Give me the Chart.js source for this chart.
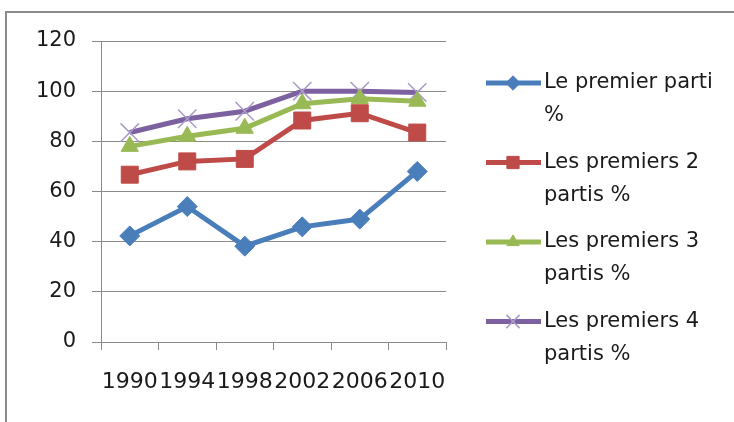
<!DOCTYPE html>
<html>
<head>
<meta charset="utf-8">
<script src="https://cdn.jsdelivr.net/npm/chart.js@4/dist/chart.umd.min.js"></script>
<style>
  html, body { margin: 0; padding: 0; background: #fff; }
  #wrap { width: 734px; height: 422px; position: relative; }
</style>
</head>
<body>
<div id="wrap"><canvas id="chart"></canvas></div>
<script>
// categories and series
const years = ['1990', '1994', '1998', '2002', '2006', '2010'];
const seriesNames = ['Le premier parti %', 'Les premiers 2 partis %', 'Les premiers 3 partis %', 'Les premiers 4 partis %'];
const premier1 = [42.3, 54, 38.2, 45.9, 49, 68];
const premiers2 = [66.7, 72, 73, 88.3, 91.2, 83.5];
const premiers3 = [78, 82, 85.2, 95, 97, 96];
const premiers4 = [83.5, 89, 92, 100, 100, 99.5];
const yTicks = [0, 20, 40, 60, 80, 100, 120];

const FONT = 'DejaVu Sans';
const gridGray = '#8a8a8a';

// frame round the whole chart
const framePlugin = {
    id: 'frame',
    beforeDraw(chart) {
        const ctx = chart.ctx;
        ctx.save();
        ctx.strokeStyle = '#8c8c8c';
        ctx.lineWidth = 2;
        ctx.beginPath();
        ctx.moveTo(6, 430);
        ctx.lineTo(6, 12);
        ctx.lineTo(740, 12);
        ctx.stroke();
        ctx.restore();
    }
};

// legend on the right with wrapped labels
const sideLegend = {
    id: 'sideLegend',
    afterDraw(chart) {
        const ctx = chart.ctx;
        ctx.save();
        ctx.font = '21px "' + FONT + '"';
        ctx.textBaseline = 'middle';
        chart.data.datasets.forEach((ds, i) => {
            const y = 83 + i * 79.5;
            ctx.strokeStyle = ds.borderColor;
            ctx.lineWidth = 5;
            ctx.beginPath();
            ctx.moveTo(486, y);
            ctx.lineTo(541, y);
            ctx.stroke();
            ctx.strokeStyle = ds.pointBorderColor;
            ctx.fillStyle = ds.pointBackgroundColor;
            ctx.lineWidth = ds.pointBorderWidth;
            Chart.helpers.drawPoint(ctx, {
                pointStyle: ds.pointStyle,
                radius: ds.pointRadius * 0.72,
                rotation: 0,
                borderWidth: ds.pointBorderWidth
            }, 513, y);
            // wrap words
            const words = ds.label.split(' ');
            let lines = [], cur = '';
            words.forEach(w => {
                const test = cur ? cur + ' ' + w : w;
                if (ctx.measureText(test).width > 185 && cur) {
                    lines.push(cur);
                    cur = w;
                } else {
                    cur = test;
                }
            });
            lines.push(cur);
            ctx.fillStyle = '#1a1a1a';
            lines.forEach((t, k) => ctx.fillText(t, 544, y + k * 33));
        });
        ctx.restore();
    }
};

function makeSet(name, data, color, style, radius, markColor, markBorder) {
    return {
        label: name,
        data: data,
        borderColor: color,
        backgroundColor: color,
        borderWidth: 5,
        pointStyle: style,
        pointRadius: radius,
        pointHoverRadius: radius,
        pointBackgroundColor: markColor,
        pointBorderColor: markColor,
        pointBorderWidth: markBorder,
        tension: 0
    };
}

const ctx = document.getElementById('chart').getContext('2d');
new Chart(ctx, {
    type: 'line',
    data: {
        labels: years,
        datasets: [
            makeSet(seriesNames[0], premier1, '#4a7ebb', 'rectRot', 10, '#4a7ebb', 1),
            makeSet(seriesNames[1], premiers2, '#be4b48', 'rect', 12, '#be4b48', 1),
            makeSet(seriesNames[2], premiers3, '#98b954', 'triangle', 10, '#98b954', 1),
            makeSet(seriesNames[3], premiers4, '#7d60a0', 'crossRot', 13, '#a99bc8', 1.5)
        ]
    },
    options: {
        responsive: true,
        maintainAspectRatio: false,
        animation: false,
        layout: { padding: { top: 41, right: 288, bottom: 0, left: 0 } },
        plugins: {
            legend: { display: false },
            tooltip: { enabled: false }
        },
        scales: {
            x: {
                offset: true,
                grid: {
                    offset: true,
                    drawOnChartArea: false,
                    drawTicks: true,
                    tickLength: 8,
                    color: gridGray
                },
                border: { color: gridGray, width: 1 },
                ticks: {
                    color: '#1a1a1a',
                    font: { family: FONT, size: 22 },
                    padding: 19,
                    maxRotation: 0,
                    autoSkip: false
                },
                afterFit(scale) { scale.height = 80; }
            },
            y: {
                min: 0,
                max: 120,
                afterBuildTicks(scale) { scale.ticks = yTicks.map(v => ({ value: v })); },
                grid: {
                    color: gridGray,
                    tickLength: 9,
                    lineWidth: 1
                },
                border: { color: gridGray, width: 1 },
                ticks: {
                    color: '#1a1a1a',
                    font: { family: FONT, size: 21 },
                    padding: 16
                },
                afterFit(scale) { scale.width = 101; }
            }
        }
    },
    plugins: [framePlugin, sideLegend]
});
</script>
</body>
</html>
